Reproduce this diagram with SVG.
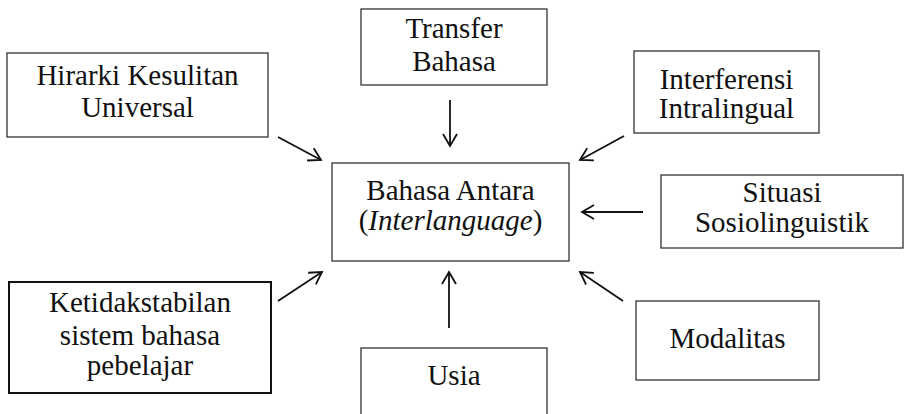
<svg xmlns="http://www.w3.org/2000/svg" width="907" height="414" viewBox="0 0 907 414">
<style>
.box{fill:#fff;stroke:#333;stroke-width:1.3}
.bold{stroke:#111;stroke-width:2}
text{font-family:"Liberation Serif","Times New Roman",serif;font-size:29px;fill:#111;text-anchor:middle}
.conn line{stroke:#111;stroke-width:1.8;marker-end:url(#ah)}
</style>
<defs>
<marker id="ah" markerUnits="userSpaceOnUse" viewBox="-14 -8 16 16" markerWidth="16" markerHeight="16" refX="0" refY="0" orient="auto">
<path d="M-12,-7 L0,0 L-12,7" fill="none" stroke="#111" stroke-width="1.8"/>
</marker>
</defs>
<rect width="907" height="414" fill="#fff"/>
<g id="hirarki"><rect class="box" x="7" y="53" width="261" height="84"/><text x="137.5" y="85">Hirarki Kesulitan</text><text x="137.5" y="117">Universal</text></g>
<g id="transfer"><rect class="box" x="361" y="9" width="186" height="76"/><text x="454" y="38">Transfer</text><text x="454" y="71">Bahasa</text></g>
<g id="interferensi"><rect class="box" x="634" y="51" width="185" height="82"/><text x="726.5" y="89">Interferensi</text><text x="726.5" y="118">Intralingual</text></g>
<g id="situasi"><rect class="box" x="661" y="175" width="242" height="73"/><text x="782" y="202">Situasi</text><text x="782" y="232">Sosiolinguistik</text></g>
<g id="center"><rect class="box" x="332" y="163" width="237" height="98"/><text x="450.5" y="200">Bahasa Antara</text><text x="450.5" y="230">(<tspan font-style="italic">Interlanguage</tspan>)</text></g>
<g id="ketidak"><rect class="box bold" x="9" y="282" width="262" height="111"/><text x="140" y="312">Ketidakstabilan</text><text x="140" y="345">sistem bahasa</text><text x="140" y="375">pebelajar</text></g>
<g id="usia"><rect class="box" x="361" y="348" width="186" height="80"/><text x="454" y="385">Usia</text></g>
<g id="modalitas"><rect class="box" x="636" y="301" width="183" height="79"/><text x="727.5" y="348">Modalitas</text></g>
<g class="conn" id="connectors">
<line x1="278" y1="137" x2="321" y2="160"/>
<line x1="450" y1="100" x2="450" y2="146"/>
<line x1="624" y1="136" x2="580" y2="160"/>
<line x1="643" y1="212" x2="582" y2="212"/>
<line x1="278" y1="301" x2="322" y2="272"/>
<line x1="449" y1="328" x2="449" y2="272"/>
<line x1="623" y1="301" x2="580" y2="272"/>
</g>
</svg>
